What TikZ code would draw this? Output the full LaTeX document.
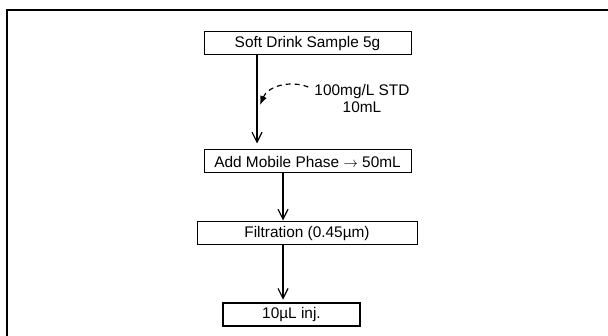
\documentclass[tikz,border=0pt]{standalone}
\usepackage{fontspec}
\setmainfont{Liberation Sans}
\usetikzlibrary{arrows.meta}
\begin{document}
\begin{tikzpicture}[x=1pt,y=-1pt,
  every node/.style={font=\fontsize{15.4}{17}\selectfont},
  stepbox/.style={draw=black,line width=1pt,inner sep=0pt,minimum height=23pt},
  arr/.style={line width=1.2pt,-{Straight Barb[length=10pt,width=10pt,line width=1.2pt]}},
  dasharr/.style={line width=1.2pt,dash pattern=on 5pt off 4pt,-{Latex[length=9pt,width=7pt]}}]
\useasboundingbox (0,0) rectangle (608,336);
\fill[white] (0,0) rectangle (608,336);
% partial frame
\draw[line width=2pt] (7,336) -- (7,10) -- (608,10);
% boxes
\node[stepbox,minimum width=207pt] (b1) at (307.5,43.5) {Soft Drink Sample 5g};
\node[stepbox,minimum width=207pt] (b2) at (307.5,161.5) {Add Mobile Phase $\rightarrow$ 50mL};
\node[stepbox,minimum width=220pt] (b3) at (307,233.5) {Filtration (0.45µm)};
\node[stepbox,line width=2.5pt,minimum width=137pt,minimum height=23pt] (b4) at (291.5,314.5) {10µL inj.};
% arrow columns
\coordinate (c1) at (257,0);
\coordinate (c2) at (283,0);
\draw[arr,shorten >=6pt] (b1.south -| c1) -- (b2.north -| c1);
\draw[arr,shorten >=1pt] (b2.south -| c2) -- (b3.north -| c2);
\draw[arr,shorten >=2pt] (b3.south -| c2) -- (b4.north -| c2);
% STD addition
\node[align=center,inner sep=0pt] (std) at (362,98) {100mg/L STD\\10mL};
\coordinate (tip) at (260,105);
\draw[dasharr] ([xshift=-6pt]std.west |- 0,87) .. controls (290,80) and (268,86) .. (tip);
\end{tikzpicture}
\end{document}
